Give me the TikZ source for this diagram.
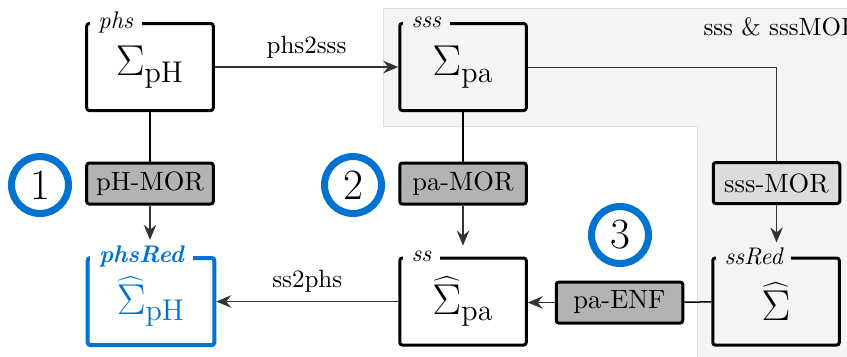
\documentclass[tikz,border=0pt]{standalone}
\usetikzlibrary{positioning,arrows.meta,calc}

\definecolor{tublue}{HTML}{0072CF}
\definecolor{bggray}{HTML}{F4F4F4}
\definecolor{bgline}{HTML}{DEDEDE}
\definecolor{morgray}{HTML}{B3B3B3}
\definecolor{lightmor}{HTML}{DCDCDC}
\definecolor{arrgray}{HTML}{333333}

\tikzset{
  sysbox/.style={draw, very thick, rounded corners=1pt, minimum width=50.6pt, minimum height=34.8pt, inner sep=0pt, font=\LARGE},
  morbox/.style={draw, very thick, rounded corners=1pt, fill=morgray, minimum width=50.6pt, minimum height=16.4pt, inner sep=0pt, font=\fontsize{10.6pt}{12pt}\selectfont},
  syslabel/.style={anchor=west, inner xsep=3.5pt, inner ysep=2pt, font=\fontsize{9.6pt}{11pt}\selectfont\itshape, fill=white},
  stepnum/.style={circle, draw=tublue, line width=2.8pt, minimum size=22.8pt, inner sep=0pt, font=\LARGE},
  conn/.style={semithick, draw=arrgray, -{Stealth[length=6pt,width=5pt,inset=2pt]}},
}

\begin{document}
\begin{tikzpicture}[x=0.4pt,y=-0.4pt, every node/.style={align=center}]
  \useasboundingbox (0,0) rectangle (847,356);
  % grey area of the sss models
  \fill[bggray, draw=bgline] (383,8) -- (852,8) -- (852,360) -- (697,360) -- (697,126) -- (383,126) -- cycle;
  \node[anchor=west, inner sep=0pt] (grp) at (703,27) {sss \& sssMOR};

  % systems
  \node[sysbox] (phs) at (150,67) {$\Sigma_{\mathrm{pH}}$};
  \node[sysbox] (sss) at (463,67) {$\Sigma_{\mathrm{pa}}$};
  \node[sysbox, draw=tublue, line width=1.6pt, text=tublue] (phsRed) at (151,301.5) {$\widehat{\Sigma}_{\mathrm{pH}}$};
  \node[sysbox] (ss) at (463,301.5) {$\widehat{\Sigma}_{\mathrm{pa}}$};
  \node[sysbox] (ssRed) at (776,301.5) {$\widehat{\Sigma}$};

  \node[syslabel] (phsLbl) at ([xshift=1.6pt]phs.north west) {phs};
  \node[syslabel, fill=bggray] (sssLbl) at ([xshift=1.6pt]sss.north west) {sss};
  \node[syslabel, font=\fontsize{9.6pt}{11pt}\selectfont\bfseries\itshape, text=tublue] (phsRedLbl) at ([xshift=1.6pt]phsRed.north west) {phsRed};
  \node[syslabel] (ssLbl) at ([xshift=1.6pt]ss.north west) {ss};
  \node[syslabel, fill=bggray] (ssRedLbl) at ([xshift=1.6pt]ssRed.north west) {ssRed};

  % methods
  \node[morbox] (phMOR) at (150,183.5) {pH-MOR};
  \node[morbox] (paMOR) at (463,183.5) {pa-MOR};
  \node[morbox, fill=lightmor] (sssMOR) at (776.5,183) {sss-MOR};
  \node[morbox] (paENF) at (619.5,302.5) {pa-ENF};

  % steps
  \node[stepnum] (one) at (40,185) {1};
  \node[stepnum] (two) at (353,185) {2};
  \node[stepnum] (three) at (620,235) {3};

  % connections
  \draw[semithick, -{Stealth[length=6pt,width=5pt,inset=2pt]}, arrgray] (phs) -- node[above, text=black] {phs2sss} (sss);
  \draw[semithick] (phs) -- (phMOR);
  \draw[conn] (phMOR) -- (phMOR.south |- phsRedLbl.north);
  \draw[semithick] (sss) -- (paMOR);
  \draw[conn] (paMOR) -- (paMOR.south |- ssLbl.north);
  \draw[thin, arrgray] (sss.east) -| (sssMOR.north);
  \draw[conn] (sssMOR) -- (sssMOR.south |- ssRedLbl.north);
  \draw[semithick] (ssRed) -- (paENF);
  \draw[conn] (paENF.west) -- (paENF.west -| ss.east);
  \draw[conn] (ss) -- node[above, text=black] {ss2phs} (phsRed);
\end{tikzpicture}
\end{document}
